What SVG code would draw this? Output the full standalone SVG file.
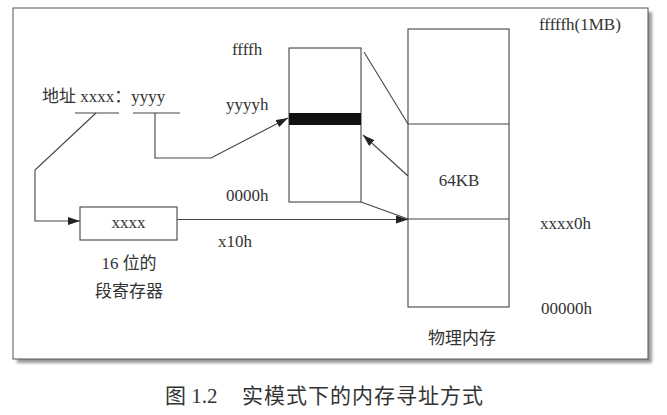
<svg xmlns="http://www.w3.org/2000/svg" width="667" height="415" viewBox="0 0 667 415">
<style>
text{font-family:"Liberation Serif","Noto Sans CJK SC",serif;fill:#333;font-size:17px}
.c{font-size:16px}
.ln{fill:none;stroke:#444;stroke-width:1.1}
.bx{fill:#fff;stroke:#444;stroke-width:1.1}
.mid{text-anchor:middle}
</style>
<defs>
<marker id="ah" viewBox="0 0 12 8" refX="12" refY="4" markerWidth="12" markerHeight="8" markerUnits="userSpaceOnUse" orient="auto">
<path d="M0,0 L12,4 L0,8 Z" fill="#222"/>
</marker>
<filter id="sh" x="-5%" y="-5%" width="110%" height="110%"><feGaussianBlur stdDeviation="1.5"/></filter>
</defs>
<rect width="667" height="415" fill="#fff"/>
<g id="frame">
<rect x="17" y="12" width="635" height="351" fill="#999" filter="url(#sh)"/>
<rect x="13" y="8" width="635" height="351" fill="#fff" stroke="#555" stroke-width="1"/>
</g>
<g id="address">
<text x="42" y="102">地址 xxxx：yyyy</text>
<line class="ln" x1="75" y1="113" x2="119" y2="113"/>
<line class="ln" x1="133" y1="113" x2="180" y2="113"/>
</g>
<g id="segreg">
<rect class="bx" x="80" y="207" width="97" height="33"/>
<text class="mid" x="128.500" y="228">xxxx</text>
<text class="mid" x="129" y="269">16 位的</text>
<text class="mid" x="129" y="297">段寄存器</text>
</g>
<g id="segment">
<rect class="bx" x="289" y="48" width="72" height="154"/>
<rect x="289" y="113" width="72" height="12" fill="#111"/>
<text x="232" y="55">ffffh</text>
<text x="226" y="110">yyyyh</text>
<text x="226" y="201">0000h</text>
</g>
<g id="physmem">
<rect class="bx" x="408" y="29" width="101" height="278"/>
<line class="ln" x1="408" y1="124" x2="509" y2="124"/>
<line class="ln" x1="408" y1="219" x2="509" y2="219"/>
<text class="mid" x="459" y="186">64KB</text>
<text x="539" y="30">fffffh(1MB)</text>
<text x="540" y="229">xxxx0h</text>
<text x="541" y="314">00000h</text>
<text class="mid" x="462" y="344">物理内存</text>
</g>
<g id="connectors">
<path class="ln" d="M96,113 L35,170 L35,221 L80,221" marker-end="url(#ah)"/>
<path class="ln" d="M155,113 L155,158 L211,158 L288,118" marker-end="url(#ah)"/>
<path class="ln" d="M177,219.500 L408,219.500" marker-end="url(#ah)"/>
<line class="ln" x1="364" y1="52" x2="408" y2="124"/>
<line class="ln" x1="361" y1="202" x2="408" y2="219"/>
<path class="ln" d="M408,176 L363,135" marker-end="url(#ah)"/>
<text x="218" y="247">x10h</text>
</g>
<g id="caption">
<text x="165" y="403" style="font-size:21px">图 1.2</text>
<text x="242" y="403" style="font-size:21px" textLength="241">实模式下的内存寻址方式</text>
</g>
</svg>
